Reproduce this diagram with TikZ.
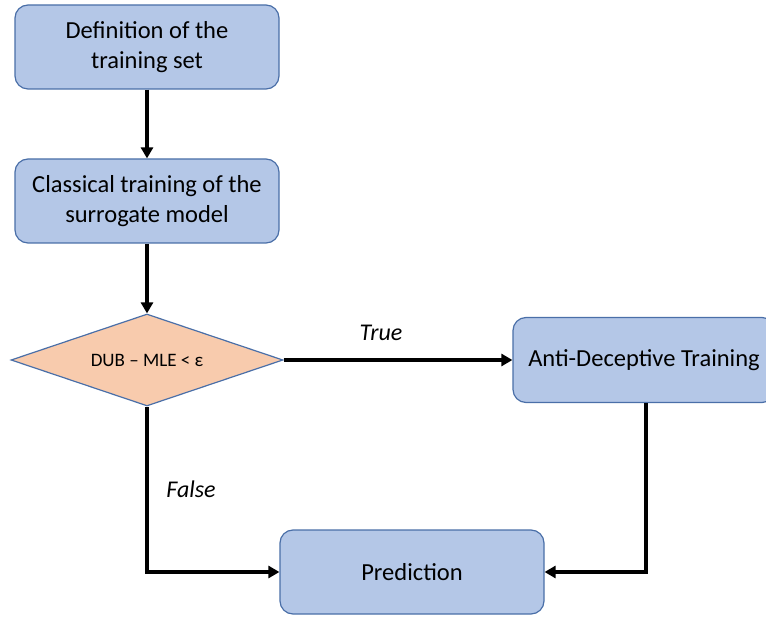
\documentclass[tikz,border=0pt]{standalone}
\usepackage{fontspec}
\setmainfont{Carlito}
\usetikzlibrary{shapes.geometric,arrows.meta}
\definecolor{boxfill}{HTML}{B4C7E7}
\definecolor{boxline}{HTML}{4A6FA8}
\definecolor{decfill}{HTML}{F8CBAD}
\tikzset{
  stepbox/.style={draw=boxline, fill=boxfill, line width=1.2pt, rounded corners=13pt,
    minimum width=264pt, minimum height=84pt, align=center, font=\fontsize{24.5}{30}\selectfont},
  decision/.style={draw=boxline, fill=decfill, line width=1.2pt, diamond, aspect=2.95,
    inner sep=0pt, minimum width=272pt, minimum height=92pt, font=\fontsize{19}{22}\selectfont},
  flow/.style={line width=3.5pt, -{Triangle[length=11pt,width=12pt]}},
  lbl/.style={font=\fontsize{24}{28}\selectfont\itshape}
}
\begin{document}
\begin{tikzpicture}[x=1pt,y=-1pt]
\useasboundingbox (0,0) rectangle (766,617);
\clip (0,0) rectangle (766,617);
\node[stepbox] (def) at (147,47) {Definition of the\\training set};
\node[stepbox] (train) at (147,201) {Classical training of the\\surrogate model};
\node[decision] (test) at (147,360) {DUB – MLE < ε};
\node[stepbox, minimum width=262pt, minimum height=85pt] (anti) at (644,360) {Anti-Deceptive Training};
\node[stepbox] (pred) at (412,572) {Prediction};
\coordinate (bend1) at (147,572);
\coordinate (bend2) at (646,572);
\draw[flow] (def.south) -- (train.north);
\draw[flow] (train.south) -- (test.north);
\draw[flow] (test.east) -- (anti.west);
\node[lbl] (truelbl) at (381,333) {True};
\draw[flow] (test.south) -- (bend1) -- (pred.west);
\draw[flow] (anti.south -| bend2) -- (bend2) -- (pred.east);
\node[lbl] (falselbl) at (191,489) {False};
\end{tikzpicture}
\end{document}
